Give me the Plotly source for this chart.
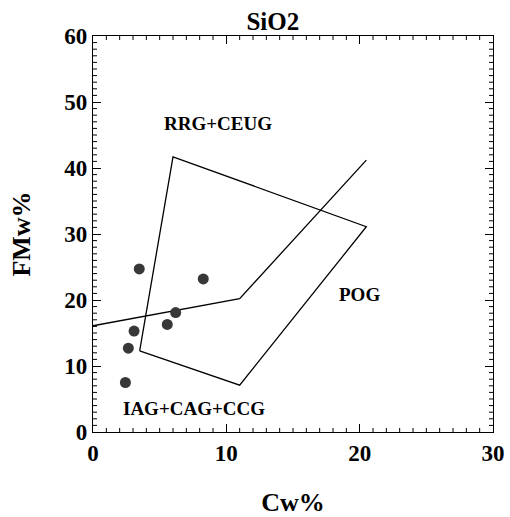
import plotly.graph_objects as go

# Sample points
sample_x = [3.47, 8.27, 6.2, 5.57, 3.08, 2.65, 2.43]
sample_y = [24.7, 23.2, 18.1, 16.3, 15.3, 12.7, 7.5]

# Boundary line
line_x = [0, 11, 20.5]
line_y = [16.1, 20.2, 41.2]

# Polygon field
poly_x = [3.5, 6.0, 20.5, 11.0, 3.5]
poly_y = [12.3, 41.7, 31.1, 7.1, 12.3]

# Field labels
label_text = ["RRG+CEUG", "POG", "IAG+CAG+CCG"]
label_x = [9.35, 20.0, 7.6]
label_y = [46.8, 20.8, 3.6]

# Minor tick positions (every 1 unit, skipping majors)
x_minor = [v for v in range(0, 31) if v % 10]
y_minor = [v for v in range(0, 61) if v % 10]

FONT = "Liberation Serif"

fig = go.Figure()
fig.add_trace(go.Scatter(x=poly_x, y=poly_y, mode="lines",
                         line=dict(color="black", width=1.3), showlegend=False))
fig.add_trace(go.Scatter(x=line_x, y=line_y, mode="lines",
                         line=dict(color="black", width=1.3), showlegend=False))
fig.add_trace(go.Scatter(x=sample_x, y=sample_y, mode="markers",
                         marker=dict(color="#383838", size=11, line=dict(width=0)),
                         showlegend=False))

for t, x, y in zip(label_text, label_x, label_y):
    fig.add_annotation(x=x, y=y, text="<b>%s</b>" % t, showarrow=False,
                       font=dict(family=FONT, size=19, color="black"))

# minor ticks on all four sides (inside), lengths as domain fractions
tick_style = dict(color="black", width=1)
lx = 4 / 396.0
ly = 4 / 400.0
for v in x_minor:
    fig.add_shape(type="line", xref="x", yref="y domain", x0=v, x1=v, y0=0, y1=lx, line=tick_style)
    fig.add_shape(type="line", xref="x", yref="y domain", x0=v, x1=v, y0=1 - lx, y1=1, line=tick_style)
for v in y_minor:
    fig.add_shape(type="line", xref="x domain", yref="y", x0=0, x1=ly, y0=v, y1=v, line=tick_style)
    fig.add_shape(type="line", xref="x domain", yref="y", x0=1 - ly, x1=1, y0=v, y1=v, line=tick_style)

axis_common = dict(
    showline=True, linecolor="black", linewidth=1.3, mirror="ticks",
    ticks="inside", ticklen=8, tickwidth=1.3, tickcolor="black",
    showgrid=False, zeroline=False, dtick=10,
    tickfont=dict(family=FONT, size=23, color="black"),
)

fig.update_layout(
    width=510, height=517,
    margin=dict(l=93, r=17, t=36, b=85, autoexpand=False),
    paper_bgcolor="white", plot_bgcolor="white",
    font=dict(family=FONT),
    title=dict(text="<b>SiO2</b>", x=0.535, xanchor="center", y=0.958, yanchor="middle",
               font=dict(family=FONT, size=25, color="black")),
    xaxis=dict(range=[0, 30], tickprefix="<b>", ticksuffix="</b>",
               title=dict(text="<b>Cw%</b>", font=dict(family=FONT, size=26, color="black"), standoff=32),
               **axis_common),
    yaxis=dict(range=[0, 60], tickprefix="<b>", ticksuffix="</b>",
               title=dict(text="<b>FMw%</b>", font=dict(family=FONT, size=26, color="black"), standoff=26),
               **axis_common),
)

fig.write_html("out.html")
